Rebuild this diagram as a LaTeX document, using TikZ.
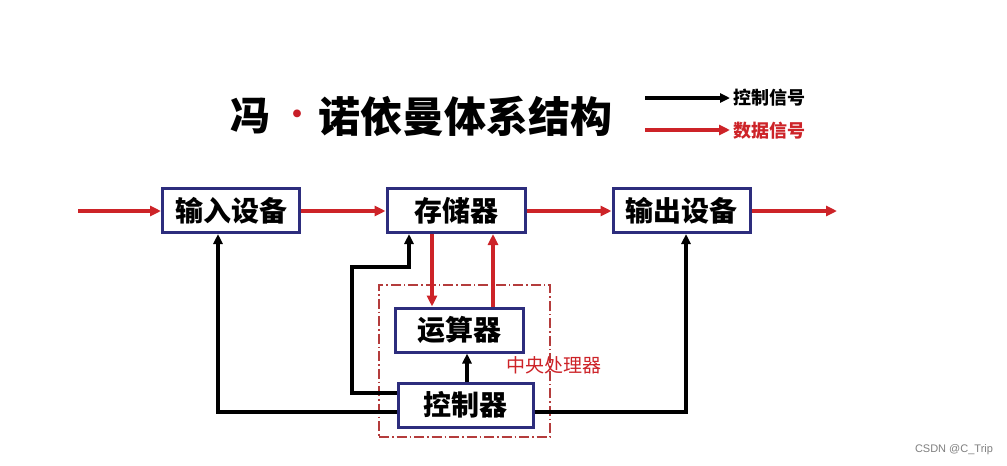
\documentclass[tikz,border=0pt]{standalone}
\usepackage{fontspec}
\newfontfamily\cjk{Noto Sans CJK SC}
\newfontfamily\wm{Liberation Sans}
\usetikzlibrary{arrows.meta,calc}
\definecolor{boxblue}{RGB}{45,45,125}
\definecolor{datared}{RGB}{205,35,40}
\definecolor{cpured}{RGB}{180,60,60}
\definecolor{dotred}{RGB}{200,30,40}
\begin{document}
\begin{tikzpicture}[x=1pt,y=-1pt,
 unit/.style={draw=boxblue,line width=3pt,fill=white,minimum height=44pt,inner sep=0pt,font=\cjk\bfseries\fontsize{28pt}{28pt}\selectfont},
 data/.style={draw=datared,line width=3.6pt,-{Triangle[length=11pt,width=10pt]}},
 ctrl/.style={draw=black,line width=3.2pt,-{Triangle[length=10pt,width=9pt]}},
 legtext/.style={anchor=west,inner sep=0pt,font=\cjk\bfseries\fontsize{18pt}{18pt}\selectfont},
]
\useasboundingbox[fill=white] (0,0) rectangle (1007,466);

% title
\node[inner sep=0pt,font=\cjk\bfseries\fontsize{40pt}{40pt}\selectfont] (t1) at (250,116) {冯};
\node[inner sep=0pt,font=\cjk\bfseries\fontsize{28pt}{28pt}\selectfont,text=dotred] (tdot) at (297,117) {·};
\node[inner sep=0pt,anchor=west,font=\cjk\bfseries\fontsize{42pt}{42pt}\selectfont] (t2) at (318,116) {诺依曼体系结构};

% legend
\coordinate (lk1) at (645,98);
\coordinate (lk2) at (730,98);
\coordinate (ld1) at (645,130);
\coordinate (ld2) at (730,130);
\draw[ctrl,line width=3.6pt] (lk1) -- (lk2);
\draw[data] (ld1) -- (ld2);
\node[legtext] (lkt) at (733,98) {控制信号};
\node[legtext,text=datared] (ldt) at (733,131) {数据信号};

% CPU frame
\node[draw=cpured,dash pattern=on 10pt off 3pt on 1.5pt off 3pt,line width=1.1pt,minimum width=171pt,minimum height=152pt,inner sep=0pt] (cpu) at (464.5,361) {};
\node[inner sep=0pt,font=\cjk\fontsize{19pt}{19pt}\selectfont,text=datared] (cpul) at (554,365) {中央处理器};

% units
\node[unit,minimum width=137pt] (in) at (231,210.5) {输入设备};
\node[unit,minimum width=138pt] (mem) at (456,210.5) {存储器};
\node[unit,minimum width=137pt] (out) at (681.5,210.5) {输出设备};
\node[unit,minimum width=128pt] (alu) at (459,330) {运算器};
\node[unit,minimum width=135pt] (cu) at (465.5,405) {控制器};

% data connectors
\coordinate (ins) at (78,211);
\coordinate (oute) at (837,211);
\coordinate (d1) at (432,0);
\coordinate (d2) at (493,0);
\draw[data] (ins) -- (in.west |- ins);
\draw[data] (in.east |- ins) -- (mem.west |- ins);
\draw[data] (mem.east |- ins) -- (out.west |- ins);
\draw[data] (out.east |- oute) -- (oute);
\draw[data] (mem.south -| d1) -- (alu.north -| d1);
\draw[data] (alu.north -| d2) -- (mem.south -| d2);

% control connectors
\coordinate (c1) at (467,0);
\draw[ctrl] (cu.north -| c1) -- (alu.south -| c1);
\coordinate (k1) at (352,393);
\coordinate (k2) at (352,267);
\coordinate (k3) at (409,267);
\draw[ctrl] (cu.west |- k1) -- (k1) -- (k2) -- (k3) -- (mem.south -| k3);
\coordinate (k4) at (218,412);
\draw[ctrl] (cu.west |- k4) -- (k4) -- (in.south -| k4);
\coordinate (k5) at (686,412);
\draw[ctrl] (cu.east |- k5) -- (k5) -- (out.south -| k5);

% watermark
\node[inner sep=0pt,font=\wm\fontsize{11pt}{11pt}\selectfont,text=gray] (wm) at (954,450) {CSDN @C\_Trip};
\end{tikzpicture}
\end{document}
